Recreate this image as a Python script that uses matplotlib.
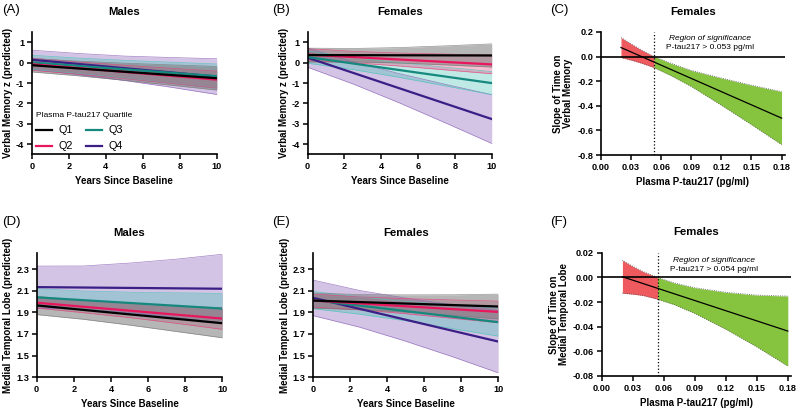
import matplotlib
matplotlib.use("Agg")
import matplotlib.pyplot as plt
from matplotlib.lines import Line2D

plt.rcParams['font.family'] = ['Liberation Sans', 'DejaVu Sans']
plt.rcParams['axes.unicode_minus'] = False

quartiles = ["Q1", "Q2", "Q3", "Q4"]
line_colors = ["#000000", "#e8175d", "#16897f", "#3b1e86"]
band_colors = ["#7a7a7a", "#e8417a", "#4cc3b8", "#8c62b8"]
band_alpha = [0.55, 0.34, 0.36, 0.38]

years_end = [0, 10]
years_band = [0, 2.5, 5, 7.5, 10]

# (A) males, verbal memory
male_vm_mean = [[-0.12, -0.76], [-0.07, -0.83], [0.02, -0.66], [0.15, -0.68]]
male_vm_lo = [[-0.45, -0.64, -0.86, -1.10, -1.34],
              [-0.37, -0.56, -0.78, -1.01, -1.25],
              [-0.33, -0.53, -0.76, -1.01, -1.26],
              [-0.32, -0.58, -0.87, -1.20, -1.56]]
male_vm_hi = [[0.21, 0.08, -0.02, -0.10, -0.18],
              [0.23, 0.04, -0.12, -0.27, -0.41],
              [0.37, 0.23, 0.12, 0.03, -0.06],
              [0.62, 0.46, 0.33, 0.26, 0.20]]

# (B) females, verbal memory
female_vm_mean = [[0.38, 0.36], [0.40, -0.08], [0.28, -1.00], [0.25, -2.77]]
female_vm_lo = [[0.04, 0.045, -0.01, -0.105, -0.21],
                [0.10, 0.00, -0.16, -0.35, -0.54],
                [-0.02, -0.34, -0.72, -1.14, -1.57],
                [-0.22, -1.055, -1.98, -2.965, -3.97]]
female_vm_hi = [[0.72, 0.705, 0.75, 0.835, 0.93],
                [0.70, 0.56, 0.48, 0.43, 0.38],
                [0.58, 0.26, 0.00, -0.22, -0.43],
                [0.72, 0.045, -0.54, -1.065, -1.57]]

# (D) males, medial temporal lobe
male_mtl_mean = [[1.965, 1.80], [1.99, 1.843], [2.04, 1.936], [2.135, 2.12]]
male_mtl_lo = [[1.88, 1.837, 1.783, 1.724, 1.665],
               [1.94, 1.898, 1.852, 1.80, 1.743],
               [1.96, 1.929, 1.888, 1.842, 1.796],
               [1.94, 1.931, 1.898, 1.854, 1.80]]
male_mtl_hi = [[2.05, 2.011, 1.983, 1.958, 1.935],
               [2.04, 2.008, 1.982, 1.96, 1.943],
               [2.12, 2.099, 2.088, 2.082, 2.076],
               [2.33, 2.331, 2.358, 2.394, 2.44]]

# (E) females, medial temporal lobe
female_mtl_mean = [[2.01, 1.955], [2.01, 1.905], [2.015, 1.81], [2.035, 1.63]]
female_mtl_lo = [[1.94, 1.926, 1.903, 1.874, 1.84],
                 [1.95, 1.924, 1.888, 1.846, 1.805],
                 [1.935, 1.884, 1.823, 1.751, 1.68],
                 [1.87, 1.764, 1.633, 1.491, 1.34]]
female_mtl_hi = [[2.08, 2.066, 2.063, 2.064, 2.07],
                 [2.07, 2.044, 2.028, 2.016, 2.005],
                 [2.095, 2.044, 2.003, 1.971, 1.94],
                 [2.20, 2.104, 2.033, 1.971, 1.92]]

# (C) slope of time on verbal memory by p-tau217
vm_ptau = [0.02, 0.03, 0.04, 0.053, 0.07, 0.09, 0.12, 0.15, 0.18]
vm_slope_lo = [-0.008, -0.029, -0.053, -0.090, -0.156, -0.243, -0.395, -0.553, -0.715]
vm_slope_hi = [0.154, 0.103, 0.055, 0.000, -0.056, -0.113, -0.175, -0.233, -0.285]
vm_line_x = [0.02, 0.18]
vm_line_y = [0.073, -0.50]
vm_cut = 0.053

# (F) slope of time on medial temporal lobe by p-tau217
mtl_ptau = [0.02, 0.03, 0.04, 0.054, 0.07, 0.09, 0.12, 0.15, 0.18]
mtl_slope_lo = [-0.0128, -0.0136, -0.0147, -0.0177, -0.0221, -0.0292, -0.0421, -0.0564, -0.0720]
mtl_slope_hi = [0.0138, 0.0090, 0.0047, 0.0000, -0.0045, -0.0084, -0.0121, -0.0144, -0.0152]
mtl_line_x = [0.02, 0.18]
mtl_line_y = [0.0005, -0.0436]
mtl_cut = 0.054

TICK = 6.6
LAB = 7.0
TITLE = 8.2


def style_axis(ax):
    for s in ['top', 'right']:
        ax.spines[s].set_visible(False)
    for s in ['left', 'bottom']:
        ax.spines[s].set_linewidth(1.2)
    ax.tick_params(direction='out', length=3.5, width=1.1, labelsize=TICK, pad=2)
    for t in ax.get_xticklabels() + ax.get_yticklabels():
        t.set_fontweight('bold')


def trajectory_panel(ax, mean, lo, hi, title, ylabel, ylim, yticks):
    for i in [3, 2, 1, 0]:
        ax.fill_between(years_band, lo[i], hi[i], color=band_colors[i],
                        alpha=band_alpha[i], lw=0)
        ax.plot(years_band, lo[i], color=band_colors[i], lw=0.5, alpha=0.8)
        ax.plot(years_band, hi[i], color=band_colors[i], lw=0.5, alpha=0.8)
    for i in [3, 2, 1, 0]:
        ax.plot(years_end, mean[i], color=line_colors[i], lw=1.6)
    ax.set_xlim(0, 10)
    ax.set_ylim(*ylim)
    ax.set_xticks([0, 2, 4, 6, 8, 10])
    ax.set_yticks(yticks)
    ax.set_title(title, fontsize=TITLE, fontweight='bold', pad=12.5)
    ax.set_xlabel("Years Since Baseline", fontsize=LAB, fontweight='bold', labelpad=4)
    ax.set_ylabel(ylabel, fontsize=LAB, fontweight='bold', labelpad=2)
    style_axis(ax)


def slope_panel(ax, px, lo, hi, lx, ly, cut, title, ylabel, ylim, yticks, yfmt, note_y):
    red_x = [x for x in px if x <= cut]
    green_x = [x for x in px if x >= cut]
    n = len(red_x)
    ax.fill_between(red_x, lo[:n], hi[:n], color="#ef5a5e", lw=0)
    ax.fill_between(green_x, lo[n - 1:], hi[n - 1:], color="#86c440", lw=0)
    ax.plot(px, lo, color="#555555", lw=0.6, ls=':')
    ax.plot(px, hi, color="#555555", lw=0.6, ls=':')
    ax.plot(lx, ly, color='k', lw=0.9)
    ax.axhline(0, color='k', lw=1.2)
    ax.axvline(cut, color='k', lw=0.9, ls=':')
    ax.set_xlim(0, 0.1835)
    ax.set_ylim(*ylim)
    ax.set_xticks([0.0, 0.03, 0.06, 0.09, 0.12, 0.15, 0.18])
    ax.set_xticklabels(["%.2f" % v for v in [0.0, 0.03, 0.06, 0.09, 0.12, 0.15, 0.18]])
    ax.set_yticks(yticks)
    ax.set_yticklabels([yfmt % v for v in yticks])
    ax.set_title(title, fontsize=TITLE, fontweight='bold', pad=12.5)
    ax.set_xlabel("Plasma P-tau217 (pg/ml)", fontsize=LAB, fontweight='bold', labelpad=4)
    ax.set_ylabel(ylabel, fontsize=LAB, fontweight='bold', labelpad=3, linespacing=1.0)
    ax.text(0.109, note_y[0], "Region of significance", fontsize=6, style='italic',
            ha='center', va='center')
    ax.text(0.109, note_y[1], "P-tau217 > %.3f pg/ml" % cut, fontsize=6,
            ha='center', va='center')
    style_axis(ax)


fig = plt.figure(figsize=(7.97, 4.09), dpi=100)
axA = fig.add_axes([0.040, 0.623, 0.232, 0.298])
axB = fig.add_axes([0.386, 0.623, 0.231, 0.298])
axC = fig.add_axes([0.754, 0.621, 0.231, 0.301])
axD = fig.add_axes([0.046, 0.078, 0.233, 0.303])
axE = fig.add_axes([0.393, 0.078, 0.232, 0.303])
axF = fig.add_axes([0.755, 0.081, 0.238, 0.301])

vm_ticks = [-4, -3, -2, -1, 0, 1]
mtl_ticks = [1.3, 1.5, 1.7, 1.9, 2.1, 2.3]
trajectory_panel(axA, male_vm_mean, male_vm_lo, male_vm_hi, "Males",
                 "Verbal Memory z (predicted)", (-4.5, 1.5), vm_ticks)
trajectory_panel(axB, female_vm_mean, female_vm_lo, female_vm_hi, "Females",
                 "Verbal Memory z (predicted)", (-4.5, 1.5), vm_ticks)
trajectory_panel(axD, male_mtl_mean, male_mtl_lo, male_mtl_hi, "Males",
                 "Medial Temporal Lobe (predicted)", (1.3, 2.45), mtl_ticks)
trajectory_panel(axE, female_mtl_mean, female_mtl_lo, female_mtl_hi, "Females",
                 "Medial Temporal Lobe (predicted)", (1.3, 2.45), mtl_ticks)
axD.set_yticklabels(["%.1f" % v for v in mtl_ticks], fontweight='bold')
axE.set_yticklabels(["%.1f" % v for v in mtl_ticks], fontweight='bold')

slope_panel(axC, vm_ptau, vm_slope_lo, vm_slope_hi, vm_line_x, vm_line_y, vm_cut,
            "Females", "Slope of Time on\nVerbal Memory", (-0.8, 0.2),
            [-0.8, -0.6, -0.4, -0.2, 0.0, 0.2], "%.1f", (0.149, 0.073))
slope_panel(axF, mtl_ptau, mtl_slope_lo, mtl_slope_hi, mtl_line_x, mtl_line_y, mtl_cut,
            "Females", "Slope of Time on\nMedial Temporal Lobe", (-0.08, 0.02),
            [-0.08, -0.06, -0.04, -0.02, 0.0, 0.02], "%.2f", (0.014, 0.0065))

handles = [Line2D([], [], color=line_colors[i], lw=1.6) for i in range(4)]
leg = axA.legend(handles, quartiles, ncol=2, loc='upper left', bbox_to_anchor=(0.01, 0.36),
                 frameon=False, fontsize=7.8, title="Plasma P-tau217 Quartile",
                 title_fontsize=6, alignment='left', borderaxespad=0, borderpad=0.2,
                 handlelength=1.5, handletextpad=0.6, columnspacing=1.2, labelspacing=0.55)

for letter, x, y in [("(A)", 0.003, 0.975), ("(B)", 0.341, 0.975), ("(C)", 0.690, 0.975),
                     ("(D)", 0.003, 0.458), ("(E)", 0.341, 0.458), ("(F)", 0.690, 0.458)]:
    fig.text(x, y, letter, fontsize=9.5, ha='left', va='center')

fig.savefig("out.png", dpi=100)
